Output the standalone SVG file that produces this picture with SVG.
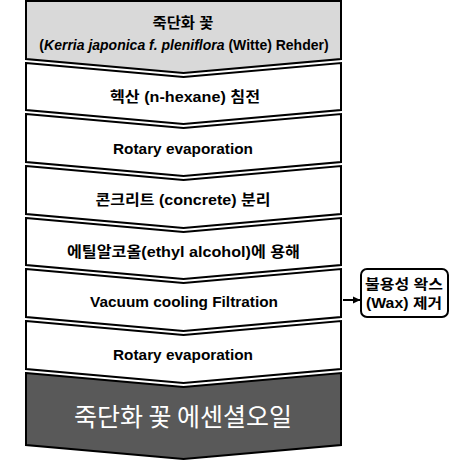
<svg xmlns="http://www.w3.org/2000/svg" width="454" height="460" viewBox="0 0 454 460">
<style>
.s{stroke:#000;stroke-width:2;stroke-linejoin:miter}
.w{fill:#fff}
.t{font-family:"Liberation Sans","Noto Sans CJK KR",sans-serif;font-weight:bold;font-size:15px;fill:#000;text-anchor:middle}
.sm{font-size:14px}
.big{font-family:"Noto Sans CJK KR","Liberation Sans",sans-serif;font-size:25px;fill:#fff;text-anchor:middle}
.side{font-family:"Liberation Sans","Noto Sans CJK KR",sans-serif;font-weight:bold;font-size:14px;fill:#000;text-anchor:middle}
</style>
<defs>
<marker id="ah" markerWidth="8" markerHeight="8" refX="7" refY="4" orient="auto" markerUnits="userSpaceOnUse">
<path d="M0,0.5 L7.5,4 L0,7.5 Z" fill="#000"/>
</marker>
</defs>
<rect width="454" height="460" fill="#fff"/>
<g id="n1">
<path class="s" fill="#d9d9d9" d="M26,1 L341,1 L341,59 L183.5,73 L26,59 Z"/>
<text class="t" x="183" y="28" textLength="61" lengthAdjust="spacingAndGlyphs">죽단화 꽃</text>
<text class="t sm" x="184" y="50">(<tspan font-style="italic">Kerria japonica f. pleniflora</tspan> (Witte) Rehder)</text>
</g>
<g id="n2">
<path class="s w" d="M26,63 L183.5,77 L341,63 L341,110 L183.5,124 L26,110 Z"/>
<text class="t" x="185" y="102" textLength="150" lengthAdjust="spacingAndGlyphs">헥산 (n-hexane) 침전</text>
</g>
<g id="n3">
<path class="s w" d="M26,114 L183.5,128 L341,114 L341,162 L183.5,176 L26,162 Z"/>
<text class="t" x="183" y="154" textLength="140" lengthAdjust="spacingAndGlyphs">Rotary evaporation</text>
</g>
<g id="n4">
<path class="s w" d="M26,166 L183.5,180 L341,166 L341,214 L183.5,228 L26,214 Z"/>
<text class="t" x="183" y="205" textLength="175" lengthAdjust="spacingAndGlyphs">콘크리트 (concrete) 분리</text>
</g>
<g id="n5">
<path class="s w" d="M26,218 L183.5,232 L341,218 L341,265 L183.5,279 L26,265 Z"/>
<text class="t" x="183.5" y="257" textLength="233" lengthAdjust="spacingAndGlyphs">에틸알코올(ethyl alcohol)에 용해</text>
</g>
<g id="n6">
<path class="s w" d="M26,269 L183.5,283 L341,269 L341,317 L183.5,331 L26,317 Z"/>
<text class="t" x="184" y="307" textLength="188" lengthAdjust="spacingAndGlyphs">Vacuum cooling Filtration</text>
</g>
<g id="n7">
<path class="s w" d="M26,321 L183.5,335 L341,321 L341,369 L183.5,383 L26,369 Z"/>
<text class="t" x="183" y="360" textLength="140" lengthAdjust="spacingAndGlyphs">Rotary evaporation</text>
</g>
<g id="n8">
<path class="s" fill="#595959" d="M26,373 L183.5,387 L341,373 L341,445 L183.5,459 L26,445 Z"/>
<text class="big" x="183" y="426">죽단화 꽃 에센셜오일</text>
</g>
<g id="n9">
<rect class="s w" x="361" y="269" width="87" height="48" rx="6" ry="6"/>
<text class="side" x="404" y="289" textLength="78" lengthAdjust="spacingAndGlyphs">불용성 왁스</text>
<text class="side" x="404" y="308" textLength="76" lengthAdjust="spacingAndGlyphs">(Wax) 제거</text>
</g>
<g id="connectors">
<line x1="343" y1="300" x2="360" y2="300" stroke="#000" stroke-width="2" marker-end="url(#ah)"/>
</g>
</svg>
